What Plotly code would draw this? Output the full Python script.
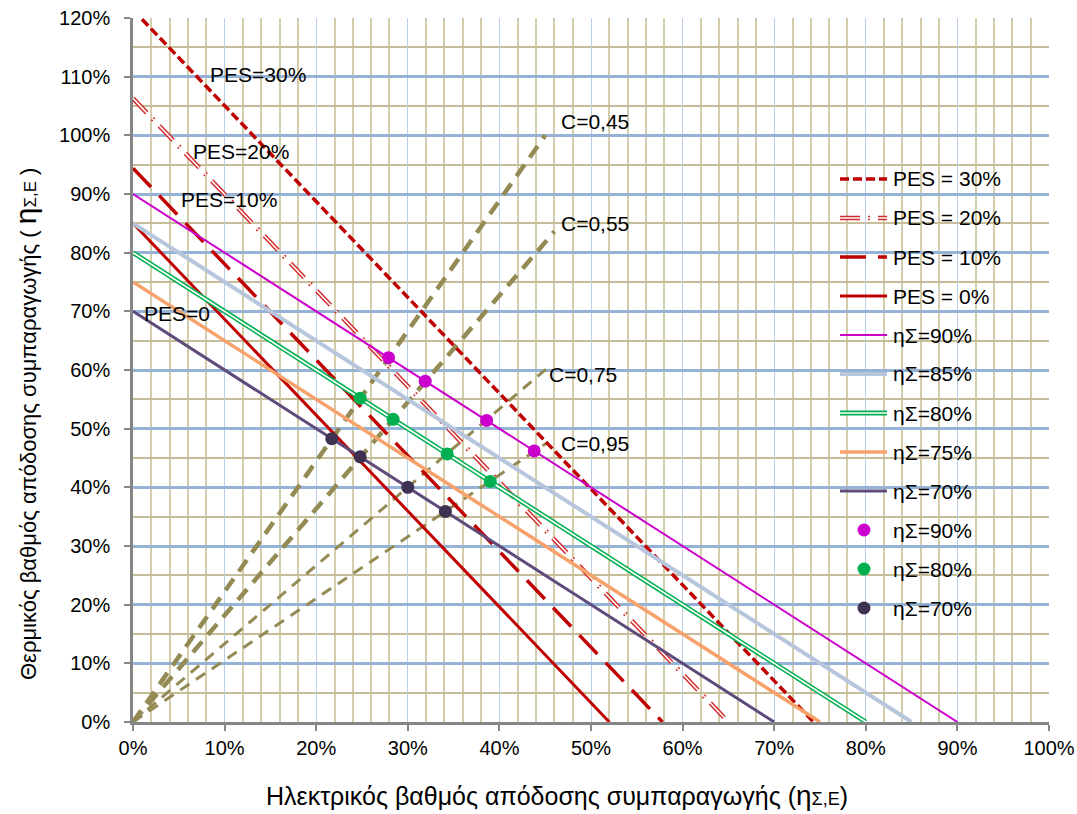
import plotly.graph_objects as go

# ---- data -------------------------------------------------------------
# PES iso-lines: thermal efficiency at zero electric output and
# electric efficiency at zero thermal output (in %)
pes_names = ["PES = 30%", "PES = 20%", "PES = 10%", "PES = 0%"]
pes_thermal_at_zero = [121.4, 106.3, 94.4, 85.0]
pes_electric_at_zero = [74.3, 65.0, 57.8, 52.0]

# overall efficiency lines (thermal + electric = total)
eta_names = ["ηΣ=90%", "ηΣ=85%", "ηΣ=80%", "ηΣ=75%", "ηΣ=70%"]
eta_totals = [90, 85, 80, 75, 70]

# power-to-heat ratio rays from the origin, end points (in %)
c_names = ["C=0,45", "C=0,55", "C=0,75", "C=0,95"]
c_end_x = [45.0, 46.0, 45.5, 45.3]
c_end_y = [100.0, 83.6, 60.7, 47.7]

# operating points where the C rays cross the total-efficiency lines
pts90_x = [27.9, 31.9, 38.6, 43.8]
pts90_y = [62.1, 58.1, 51.4, 46.2]
pts80_x = [24.8, 28.4, 34.3, 39.0]
pts80_y = [55.2, 51.6, 45.7, 41.0]
pts70_x = [21.7, 24.8, 30.0, 34.1]
pts70_y = [48.3, 45.2, 40.0, 35.9]
pts_names = ["ηΣ=90%", "ηΣ=80%", "ηΣ=70%"]

# in-plot labels: text, x, y
pes_labels = [("PES=30%", 8.2, 110.3), ("PES=20%", 6.3, 97.2),
              ("PES=10%", 5.0, 89.0), ("PES=0", 1.0, 69.7)]
c_label_pos = [(46.5, 102.3), (46.5, 85.0), (45.2, 59.3), (46.5, 47.5)]

# ---- styles -----------------------------------------------------------
FONT = "Arial, 'Liberation Sans', sans-serif"
DARK_RED = "#c00000"
OLIVE = "#948a54"

pes_styles = [
    [dict(color=DARK_RED, width=3.5, dash="9px,4px")],
    [dict(color="#d42a2a", width=4.5, dash="20px,8px,2px,8px"),
     dict(color="#ffffff", width=1.6, dash="20px,8px,2px,8px")],
    [dict(color=DARK_RED, width=3.5, dash="26px,12px")],
    [dict(color=DARK_RED, width=3)],
]
eta_styles = [
    [dict(color="#cc00cc", width=2)],
    [dict(color="#b7c6dc", width=4)],
    [dict(color="#00b050", width=4.8), dict(color="#ffffff", width=1.7)],
    [dict(color="#f7a26b", width=3.5)],
    [dict(color="#5f4b7b", width=3)],
]
c_styles = [
    dict(color=OLIVE, width=4.5, dash="14px,9px"),
    dict(color=OLIVE, width=4.5, dash="14px,9px"),
    dict(color=OLIVE, width=3, dash="11px,8px"),
    dict(color=OLIVE, width=3, dash="11px,8px"),
]
pt_colors = ["#cc00cc", "#00b050", "#3f3151"]

fig = go.Figure()

# C rays (drawn underneath the efficiency lines)
for name, ex, ey, st in zip(c_names, c_end_x, c_end_y, c_styles):
    fig.add_trace(go.Scatter(x=[0, ex], y=[0, ey], mode="lines", line=st,
                             name=name, showlegend=False, hoverinfo="skip"))

# PES iso-lines
for name, h0, e0, layers in zip(pes_names, pes_thermal_at_zero,
                                pes_electric_at_zero, pes_styles):
    for st in layers:
        fig.add_trace(go.Scatter(x=[0, e0], y=[h0, 0], mode="lines", line=st,
                                 name=name, showlegend=False))

# total-efficiency lines
for name, tot, layers in zip(eta_names, eta_totals, eta_styles):
    for st in layers:
        fig.add_trace(go.Scatter(x=[0, tot], y=[tot, 0], mode="lines", line=st,
                                 name=name, showlegend=False))

# operating points
for name, xs, ys, col in zip(pts_names, [pts90_x, pts80_x, pts70_x],
                             [pts90_y, pts80_y, pts70_y], pt_colors):
    fig.add_trace(go.Scatter(x=xs, y=ys, mode="markers", name=name,
                             marker=dict(color=col, size=13, line=dict(width=0)),
                             showlegend=False))

# ---- layout -----------------------------------------------------------
L, R, T, B = 133, 28, 18, 92
W, H = 1077, 814
PW, PH = W - L - R, H - T - B


def px_x(px):
    return (px - L) / PW


def px_y(py):
    return (H - B - py) / PH


annotations = []
for txt, x, y in pes_labels:
    annotations.append(dict(x=x, y=y, xref="x", yref="y", text=txt,
                            showarrow=False, xanchor="left", yanchor="middle",
                            font=dict(size=21, color="#000000", family=FONT)))
for txt, (x, y) in zip(c_names, c_label_pos):
    annotations.append(dict(x=x, y=y, xref="x", yref="y", text=txt,
                            showarrow=False, xanchor="left", yanchor="middle",
                            font=dict(size=21, color="#000000", family=FONT)))

# axis titles: base size is the large η, the rest is set smaller
annotations.append(dict(
    x=px_x(557), y=px_y(795), xref="paper", yref="paper", showarrow=False,
    xanchor="center", yanchor="middle",
    text="<span style='font-size:25px'>Ηλεκτρικός βαθμός απόδοσης "
         "συμπαραγωγής (</span>η"
         "<span style='font-size:18px'>Σ,Ε</span>"
         "<span style='font-size:25px'>)</span>",
    font=dict(size=28, color="#000000", family=FONT)))
annotations.append(dict(
    x=px_x(25), y=px_y(424), xref="paper", yref="paper", showarrow=False,
    xanchor="center", yanchor="middle", textangle=-90,
    text="<span style='font-size:22px'>Θερμικός βαθμός απόδοσης "
         "συμπαραγωγής ( </span>η"
         "<span style='font-size:17px'>Σ,Ε</span>"
         "<span style='font-size:22px'> )</span>",
    font=dict(size=30, color="#000000", family=FONT)))

# legend box
shapes = [dict(type="rect", xref="paper", yref="paper",
               x0=px_x(822), x1=px_x(1020), y0=px_y(630), y1=px_y(157),
               fillcolor="rgba(255,255,255,0.62)", line=dict(width=0),
               layer="between")]

legend_names = pes_names + eta_names + pts_names
legend_styles = pes_styles + eta_styles + [None] * len(pts_names)
row_y = [179 + 39 * i for i in range(len(legend_names))]
pt_iter = iter(pt_colors)
for name, layers, yc in zip(legend_names, legend_styles, row_y):
    if layers is not None:
        for st in layers:
            shapes.append(dict(type="line", xref="paper", yref="paper",
                               x0=px_x(840), x1=px_x(887),
                               y0=px_y(yc), y1=px_y(yc), line=st,
                               layer="above"))
    else:
        col = next(pt_iter)
        r = 6.5
        shapes.append(dict(type="circle", xref="paper", yref="paper",
                           x0=px_x(864 - r), x1=px_x(864 + r),
                           y0=px_y(yc + r), y1=px_y(yc - r),
                           fillcolor=col, line=dict(width=0), layer="above"))
    annotations.append(dict(x=px_x(891), y=px_y(yc), xref="paper",
                            yref="paper", text=name, showarrow=False,
                            xanchor="left", yanchor="middle",
                            font=dict(size=21, color="#000000", family=FONT)))

fig.update_layout(
    width=W, height=H, autosize=False,
    margin=dict(l=L, r=R, t=T, b=B, pad=0, autoexpand=False),
    paper_bgcolor="#ffffff", plot_bgcolor="#ffffff",
    font=dict(family=FONT, size=20, color="#000000"),
    showlegend=False,
    annotations=annotations,
    shapes=shapes,
    xaxis=dict(range=[0, 100], dtick=10, tick0=0, ticksuffix="%",
               automargin=False,
               showgrid=True, gridcolor="#b9cde5", gridwidth=1.3,
               minor=dict(dtick=2, showgrid=True, gridcolor="#d3cdab",
                          gridwidth=1.5),
               showline=True, linecolor="#868686", linewidth=2.5,
               ticks="outside", ticklen=6, tickwidth=1.5,
               tickcolor="#868686", zeroline=False,
               tickfont=dict(size=20, family=FONT, color="#000000")),
    yaxis=dict(range=[0, 120], dtick=10, tick0=0, ticksuffix="%",
               automargin=False,
               showgrid=True, gridcolor="#95b3d7", gridwidth=2.6,
               minor=dict(dtick=5, showgrid=True, gridcolor="#c4bd97",
                          gridwidth=2),
               showline=True, linecolor="#868686", linewidth=2.5,
               ticks="outside", ticklen=6, tickwidth=1.5,
               tickcolor="#868686", zeroline=False, ticklabelstandoff=10,
               tickfont=dict(size=20, family=FONT, color="#000000")),
)

fig.write_html("out.html")
